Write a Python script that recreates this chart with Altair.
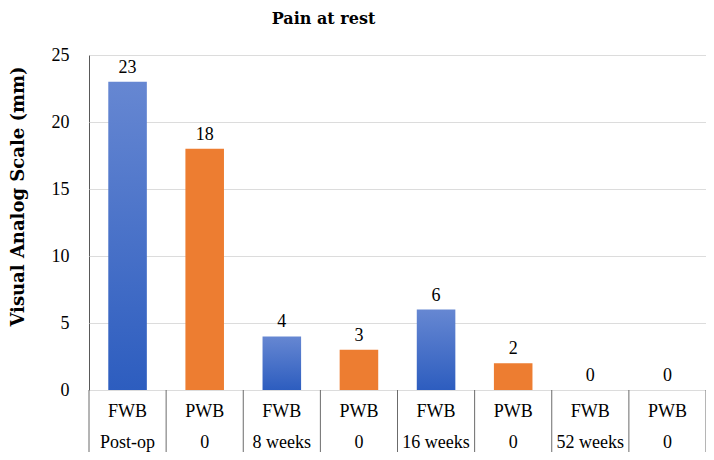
import altair as alt
import pandas as pd

groups = ["FWB", "PWB", "FWB", "PWB", "FWB", "PWB", "FWB", "PWB"]
times = ["Post-op", "0", "8 weeks", "0", "16 weeks", "0", "52 weeks", "0"]
values = [23, 18, 4, 3, 6, 2, 0, 0]
y_ticks = [0, 5, 10, 15, 20, 25]

FONT = "Liberation Serif"
BOLD_FONT = "DejaVu Serif"
W, H = 617, 335

df = pd.DataFrame({
    "idx": list(range(len(values))),
    "group": groups,
    "time": times,
    "value": values,
})
df["x0"] = df["idx"] + 0.25
df["x1"] = df["idx"] + 0.75
df["xc"] = df["idx"] + 0.5

bounds = pd.DataFrame({"b": list(range(len(values) + 1))})

xscale = alt.Scale(domain=[0, len(values)], nice=False, zero=False)
yscale = alt.Scale(domain=[0, 25], nice=False)

base = alt.Chart(df)

blue_grad = alt.Gradient(
    gradient="linear",
    stops=[alt.GradientStop(color="#6687d2", offset=0),
           alt.GradientStop(color="#2d5dbf", offset=1)],
    x1=0, x2=0, y1=0, y2=1,
)

bars_fwb = base.transform_filter(alt.datum.group == "FWB").mark_bar(
    color=blue_grad
).encode(
    x=alt.X("x0:Q", scale=xscale, axis=None),
    x2="x1:Q",
    y=alt.Y("value:Q", scale=yscale,
            axis=alt.Axis(values=y_ticks, grid=True, gridColor="#dcdcdc",
                          domain=False, ticks=False, labelPadding=20,
                          labelFont=FONT, labelFontSize=18, labelColor="#000",
                          title="Visual Analog Scale (mm)", titleFont=BOLD_FONT,
                          titleFontSize=18, titleFontWeight="bold",
                          titleColor="#000", titleX=-71, titleY=141,
                          titleAngle=270, titleAlign="center",
                          titleBaseline="middle")),
    y2=alt.datum(0),
)

bars_pwb = base.transform_filter(alt.datum.group == "PWB").mark_bar(
    color="#ed7d31"
).encode(
    x=alt.X("x0:Q", scale=xscale, axis=None),
    x2="x1:Q",
    y=alt.Y("value:Q", scale=yscale),
    y2=alt.datum(0),
)

value_labels = base.mark_text(
    font=FONT, fontSize=18, baseline="bottom", dy=-5, color="#000"
).encode(
    x=alt.X("xc:Q", scale=xscale),
    y=alt.Y("value:Q", scale=yscale),
    text="value:Q",
)

row1 = base.mark_text(font=FONT, fontSize=18, baseline="middle", color="#000").encode(
    x=alt.X("xc:Q", scale=xscale),
    y=alt.value(357),
    text="group:N",
)
row2 = base.mark_text(font=FONT, fontSize=18, baseline="middle", color="#000").encode(
    x=alt.X("xc:Q", scale=xscale),
    y=alt.value(388),
    text="time:N",
)

seps = alt.Chart(bounds).mark_rule(color="#6b6b6b", strokeWidth=1).encode(
    x=alt.X("b:Q", scale=xscale),
    y=alt.value(H),
    y2=alt.value(H + 62),
)

chart = alt.layer(bars_fwb, bars_pwb, value_labels, row1, row2, seps).properties(
    width=W,
    height=H,
    title=alt.TitleParams("Pain at rest", font=BOLD_FONT, fontSize=16,
                          fontWeight="bold", color="#000", anchor="middle",
                          dx=-74, offset=19),
    autosize=alt.AutoSizeParams(type="none"),
    padding={"left": 81, "top": 47, "right": 0, "bottom": 62},
).configure_view(stroke="#595959", strokeWidth=1)

chart.save("out.html", embed_options={"renderer": "svg", "actions": False})
